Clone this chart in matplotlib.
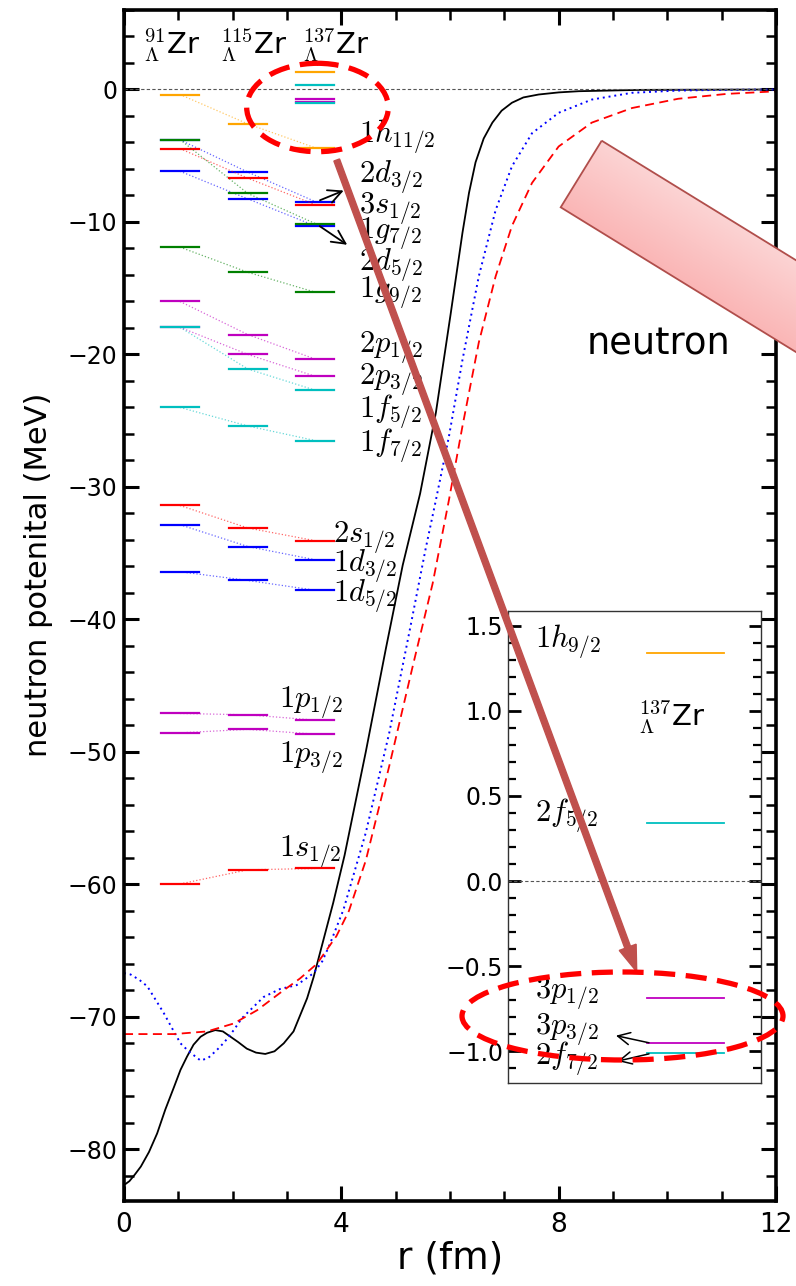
import numpy as np
import matplotlib
matplotlib.use("Agg")
import matplotlib.pyplot as plt
from matplotlib.patches import Ellipse, Polygon, FancyArrow
from matplotlib.ticker import MultipleLocator

plt.rcParams['font.family'] = ['DejaVu Sans']
plt.rcParams['mathtext.fontset'] = 'cm'

# ---- potentials (r in fm, V in MeV) ----
black_r = [0.0, 0.1, 0.2, 0.31, 0.46, 0.61, 0.76, 0.92, 1.04, 1.16, 1.28, 1.41, 1.53, 1.68, 1.82,
           1.96, 2.10, 2.26, 2.43, 2.60, 2.77, 2.94, 3.12, 3.24, 3.37, 3.49, 3.67, 3.85, 4.06,
           4.45, 4.82, 5.13, 5.45, 5.74, 6.01, 6.23, 6.35, 6.47, 6.62, 6.78, 6.95, 7.14, 7.35,
           7.63, 8.0, 8.37, 9.5, 12.0]
black_V = [-82.7, -82.4, -81.9, -81.3, -80.2, -78.8, -77.0, -75.3, -74.0, -73.0, -72.1, -71.5,
           -71.2, -71.0, -71.1, -71.5, -71.9, -72.4, -72.7, -72.8, -72.6, -72.0, -71.1, -69.9,
           -68.6, -67.0, -64.2, -61.4, -57.8, -50.0, -42.2, -35.9, -30.5, -24.4, -17.0, -10.8,
           -7.8, -5.5, -3.7, -2.5, -1.6, -1.0, -0.6, -0.38, -0.22, -0.13, -0.03, 0.0]

blue_r = [0.0, 0.12, 0.28, 0.43, 0.58, 0.73, 0.89, 1.04, 1.19, 1.41, 1.55, 1.71, 1.85, 2.02, 2.17,
          2.32, 2.57, 2.87, 3.18, 3.49, 3.65, 3.79, 4.04, 4.45, 4.88, 5.25, 5.55, 5.74, 5.98,
          6.23, 6.53, 6.84, 7.14, 7.51, 8.0, 8.61, 9.35, 10.2, 11.0, 12.0]
blue_V = [-66.7, -66.8, -67.2, -67.7, -68.7, -69.7, -70.9, -72.0, -72.6, -73.3, -73.1, -72.5, -71.9,
          -71.0, -70.1, -69.5, -68.5, -67.9, -67.6, -66.7, -65.8, -64.5, -61.9, -56.1, -48.6,
          -41.0, -34.7, -31.0, -26.2, -20.4, -14.1, -9.1, -5.8, -3.3, -1.76, -0.76, -0.25,
          -0.08, -0.03, 0.0]

red_r = [0.0, 0.5, 0.92, 1.53, 2.02, 2.45, 2.87, 3.24, 3.55, 3.91, 4.14, 4.45, 4.88, 5.31, 5.68,
         5.98, 6.23, 6.53, 6.84, 7.14, 7.51, 8.0, 8.61, 9.35, 10.2, 11.1, 11.85, 12.0]
red_V = [-71.3, -71.3, -71.3, -71.1, -70.5, -69.5, -68.2, -67.1, -66.0, -63.9, -62.0, -58.2, -51.1,
         -43.6, -37.3, -31.0, -25.4, -19.1, -14.1, -10.3, -7.05, -4.3, -2.5, -1.4, -0.7, -0.33,
         -0.17, -0.15]

# ---- single-particle levels (MeV) for 91, 115, 137 Lambda-Zr ----
nuclei = ['${}^{91}_{\\Lambda}$Zr', '${}^{115}_{\\Lambda}$Zr', '${}^{137}_{\\Lambda}$Zr']
states = ['1h_{11/2}', '3s_{1/2}', '2d_{5/2}', '2d_{3/2}', '1g_{7/2}', '1g_{9/2}', '2p_{1/2}',
          '2p_{3/2}', '1f_{5/2}', '1f_{7/2}', '2s_{1/2}', '1d_{3/2}', '1d_{5/2}', '1p_{1/2}',
          '1p_{3/2}', '1s_{1/2}']
colors = ['orange', 'red', 'blue', 'blue', 'green', 'green', 'm', 'm', 'c', 'c', 'red', 'blue',
          'blue', 'm', 'm', 'red']
e91 = [-0.38, -4.46, -6.17, -3.80, -3.78, -11.9, -16.0, -17.95, -17.95, -24.0, -31.4, -32.85,
       -36.4, -47.1, -48.56, -59.97]
e115 = [-2.6, -6.7, -8.26, -6.24, -7.85, -13.8, -18.5, -20.0, -21.1, -25.4, -33.1, -34.5, -37.06,
        -47.2, -48.3, -58.9]
e137 = [-4.4, -8.69, -10.3, -8.46, -10.12, -15.3, -20.35, -21.65, -22.7, -26.5, -34.06, -35.5,
        -37.8, -47.6, -48.66, -58.8]

# weakly bound / resonant levels of 137 Lambda-Zr (inset)
near_states = ['1h_{9/2}', '2f_{5/2}', '3p_{1/2}', '3p_{3/2}', '2f_{7/2}']
near_colors = ['orange', 'c', 'm', 'm', 'c']
near_e137 = [1.34, 0.34, -0.69, -0.95, -1.01]

# label anchors (x, baseline y)
label_pos = {'1h_{11/2}': (4.33, -4.03), '2d_{3/2}': (4.33, -7.05), '3s_{1/2}': (4.33, -9.37),
             '1g_{7/2}': (4.33, -11.25), '2d_{5/2}': (4.33, -13.72), '1g_{9/2}': (4.33, -15.73),
             '2p_{1/2}': (4.33, -19.86), '2p_{3/2}': (4.33, -22.28), '1f_{5/2}': (4.33, -24.77),
             '1f_{7/2}': (4.33, -27.32), '2s_{1/2}': (3.84, -34.24), '1d_{3/2}': (3.84, -36.38),
             '1d_{5/2}': (3.84, -38.65), '1p_{1/2}': (2.86, -46.7), '1p_{3/2}': (2.86, -50.85),
             '1s_{1/2}': (2.86, -57.9)}
inset_label_pos = [(0.107, 1.37), (0.107, 0.35), (0.107, -0.69), (0.107, -0.906), (0.107, -1.08)]

W, H = 796, 1286
fig = plt.figure(figsize=(W / 100, H / 100), dpi=100)
ax = fig.add_axes([124 / W, 1 - 1201 / H, (776 - 124) / W, (1201 - 10) / H])

cx = [1.03, 2.28, 3.52]
hw = 0.35
order = [0, 6, 7, 8, 9, 3, 1, 2, 4, 5, 10, 11, 12, 13, 14, 15]  # hidden levels first
for i in order:
    ys = [e91[i], e115[i], e137[i]]
    ax.plot(cx, ys, ls=':', lw=0.9, color=colors[i], alpha=0.6)
    for c, y in zip(cx, ys):
        ax.plot([c - hw, c + hw], [y, y], color=colors[i], lw=1.6)
for i in range(len(near_states)):
    ax.plot([cx[2] - hw, cx[2] + hw], [near_e137[i]] * 2, color=near_colors[i], lw=1.6)

for s in states:
    x, y = label_pos[s]
    ax.text(x, y, '$' + s + '$', fontsize=22, va='baseline', ha='left')

ax.annotate('', xy=(4.09, -7.55), xytext=(3.56, -8.44),
            arrowprops=dict(arrowstyle='->', color='black', lw=1.3, mutation_scale=24))
ax.annotate('', xy=(4.15, -11.84), xytext=(3.56, -10.2),
            arrowprops=dict(arrowstyle='->', color='black', lw=1.3, mutation_scale=24))

for x, name in zip([0.35, 1.76, 3.27], nuclei):
    ax.text(x, 2.64, name, fontsize=21, va='baseline')

ax.plot(black_r, black_V, color='black', lw=1.3)
ax.plot(blue_r, blue_V, color='blue', lw=1.4, ls=(0, (1, 2)))
ax.plot(red_r, red_V, color='red', lw=1.3, ls=(0, (5, 3)))
ax.axhline(0, color='#555555', lw=0.8, ls=(0, (3, 2)))

ax.text(8.52, -20.0, 'neutron', fontsize=26.5, va='baseline')

ax.set_xlim(0, 12)
ax.set_ylim(-83.9, 6.0)
ax.xaxis.set_major_locator(MultipleLocator(4))
ax.xaxis.set_minor_locator(MultipleLocator(1))
ax.yaxis.set_major_locator(MultipleLocator(10))
ax.yaxis.set_minor_locator(MultipleLocator(2))
ax.tick_params(which='both', direction='in', top=True, right=True)
ax.tick_params(which='major', length=11, width=2.2)
ax.tick_params(which='minor', length=7, width=1.8)
ax.tick_params(axis='y', labelsize=17, pad=5)
ax.tick_params(axis='x', labelsize=19, pad=8)
for sp in ax.spines.values():
    sp.set_linewidth(2.6)
ax.set_xlabel('r (fm)', fontsize=27, labelpad=2)
ax.set_ylabel('neutron potenital (MeV)', fontsize=22)
ax.yaxis.set_label_coords(-0.109, 0.5256)

# ---- inset ----
axin = fig.add_axes([508 / W, 1 - 1083 / H, 253 / W, (1083 - 611) / H])
axin.set_xlim(0, 1)
axin.set_ylim(-1.188, 1.588)
for i in range(len(near_states)):
    axin.plot([0.55, 0.854], [near_e137[i]] * 2, color=near_colors[i], lw=1.3)
    x, y = inset_label_pos[i]
    axin.text(x, y, '$' + near_states[i] + '$', fontsize=22, va='baseline')
axin.axhline(0, color='#555555', lw=0.8, ls=(0, (3, 2)))
axin.text(0.515, 0.908, nuclei[2], fontsize=21, va='baseline')
axin.annotate('', xy=(0.416, -0.906), xytext=(0.568, -0.955),
              arrowprops=dict(arrowstyle='->', color='black', lw=1.1, mutation_scale=22))
axin.annotate('', xy=(0.423, -1.063), xytext=(0.568, -1.013),
              arrowprops=dict(arrowstyle='->', color='black', lw=1.1, mutation_scale=22))
axin.set_xticks([])
axin.yaxis.set_major_locator(MultipleLocator(0.5))
axin.yaxis.set_minor_locator(MultipleLocator(0.1))
axin.tick_params(which='both', direction='in', right=True, labelsize=17)
axin.tick_params(which='major', length=9, width=2)
axin.tick_params(which='minor', length=6, width=1.6)
for sp in axin.spines.values():
    sp.set_linewidth(1.0)
    sp.set_color('#333333')

# ---- overlay annotations in pixel coordinates ----
ov = fig.add_axes([0, 0, 1, 1], zorder=10)
ov.axis('off')
ov.patch.set_alpha(0)

p1 = np.array([601.7, 140.7])
p2 = np.array([560.7, 207.3])
u = np.array([0.8517, 0.5240])
L = 420
corners = np.array([p1, p2, p2 + L * u, p1 + L * u])
rect = Polygon(corners, closed=True, facecolor='none', edgecolor='#B04E4B', lw=1.3, zorder=2)
ov.add_patch(rect)
x0, y0 = corners.min(axis=0)
x1, y1 = corners.max(axis=0)
gx, gy = np.meshgrid(np.linspace(x0, x1, 200), np.linspace(y0, y1, 200))
nvec = (p2 - p1) / np.linalg.norm(p2 - p1)
t = ((gx - p1[0]) * nvec[0] + (gy - p1[1]) * nvec[1]) / np.linalg.norm(p2 - p1)
t = np.clip(t, 0, 1)[..., None]
light = np.array([252, 212, 212]) / 255
dark = np.array([250, 182, 182]) / 255
img = ov.imshow(light * (1 - t) + dark * t, extent=(x0, x1, y1, y0), origin='upper',
                aspect='auto', zorder=1)
img.set_clip_path(rect)

ov.add_patch(FancyArrow(336.7, 160, 636.7 - 336.7, 971.7 - 160, width=6, head_width=18,
                        head_length=26, length_includes_head=True, color='#C0504D', zorder=3))
ov.add_patch(Ellipse((317.5, 107.5), 141.6, 88.4, fill=False, edgecolor='red', lw=3.8,
                     ls=(0, (4, 2)), zorder=4))
ov.add_patch(Ellipse((622.5, 1016), 321, 88, fill=False, edgecolor='red', lw=3.8,
                     ls=(0, (4, 2)), zorder=4))
ov.set_xlim(0, W)
ov.set_ylim(H, 0)

fig.savefig('out.png', dpi=100)
